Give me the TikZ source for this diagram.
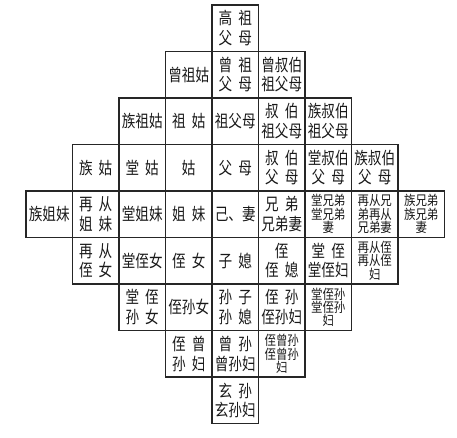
\documentclass[tikz,border=0pt]{standalone}
\usepackage{fontspec}
\newfontfamily\cjk{Noto Sans CJK SC}[FakeStretch=0.8]
\newfontfamily\cjks{Noto Sans CJK SC}[FakeStretch=0.85]
\newcommand\gp{\hspace{6pt}}
\tikzset{
  cellbox/.style={draw=black!85, line width=1.1pt, minimum width=46.5pt, minimum height=46.5pt,
    inner sep=0pt, align=center, text=black!90, font=\cjk\fontsize{17}{19.5}\selectfont},
  tightbox/.style={cellbox, font=\cjks\fontsize{13.5}{10.8}\selectfont}
}
\begin{document}
\begin{tikzpicture}[x=1pt,y=-1pt]
\useasboundingbox (0,0) rectangle (457,438);
% column centres: 49.25 95.75 142.25 188.75 235.25 281.75 328.25 374.75 421.25
% row centres:    28.25 74.75 121.25 167.75 214.25 260.75 307.25 353.75 400.25
\node[cellbox] (gaozu) at (235.25,28.25) {高\gp 祖\\父\gp 母};
\node[cellbox] (zengzugu) at (188.75,74.75) {曾祖姑};
\node[cellbox] (zengzu) at (235.25,74.75) {曾\gp 祖\\父\gp 母};
\node[cellbox] (zengshubo) at (281.75,74.75) {曾叔伯\\祖父母};
\node[cellbox] (zuzugu) at (142.25,121.25) {族祖姑};
\node[cellbox] (zugu) at (188.75,121.25) {祖\gp 姑};
\node[cellbox] (zufumu) at (235.25,121.25) {祖父母};
\node[cellbox] (shubozu) at (281.75,121.25) {叔\gp 伯\\祖父母};
\node[cellbox] (zushubozu) at (328.25,121.25) {族叔伯\\祖父母};
\node[cellbox] (zugu2) at (95.75,167.75) {族\gp 姑};
\node[cellbox] (tanggu) at (142.25,167.75) {堂\gp 姑};
\node[cellbox] (gu) at (188.75,167.75) {姑};
\node[cellbox] (fumu) at (235.25,167.75) {父\gp 母};
\node[cellbox] (shubo) at (281.75,167.75) {叔\gp 伯\\父\gp 母};
\node[cellbox] (tangshubo) at (328.25,167.75) {堂叔伯\\父\gp 母};
\node[cellbox] (zushubo) at (374.75,167.75) {族叔伯\\父\gp 母};
\node[cellbox] (zujiemei) at (49.25,214.25) {族姐妹};
\node[cellbox] (zaicongjm) at (95.75,214.25) {再\gp 从\\姐\gp 妹};
\node[cellbox] (tangjiemei) at (142.25,214.25) {堂姐妹};
\node[cellbox] (jiemei) at (188.75,214.25) {姐\gp 妹};
\node[cellbox] (ji) at (235.25,214.25) {己、妻};
\node[cellbox] (xiongdi) at (281.75,214.25) {兄\gp 弟\\兄弟妻};
\node[tightbox] (tangxd) at (328.25,214.25) {堂兄弟\\堂兄弟\\妻};
\node[tightbox] (zaicongxd) at (374.75,214.25) {再从兄\\弟再从\\兄弟妻};
\node[tightbox] (zuxd) at (421.25,214.25) {族兄弟\\族兄弟\\妻};
\node[cellbox] (zaicongzn) at (95.75,260.75) {再\gp 从\\侄\gp 女};
\node[cellbox] (tangzhinv) at (142.25,260.75) {堂侄女};
\node[cellbox] (zhinv) at (188.75,260.75) {侄\gp 女};
\node[cellbox] (zixi) at (235.25,260.75) {子\gp 媳};
\node[cellbox] (zhi) at (281.75,260.75) {侄\\侄\gp 媳};
\node[cellbox] (tangzhi) at (328.25,260.75) {堂\gp 侄\\堂侄妇};
\node[tightbox] (zaicongzhi) at (374.75,260.75) {再从侄\\再从侄\\妇};
\node[cellbox] (tangzhisunnv) at (142.25,307.25) {堂\gp 侄\\孙\gp 女};
\node[cellbox] (zhisunnv) at (188.75,307.25) {侄孙女};
\node[cellbox] (sun) at (235.25,307.25) {孙\gp 子\\孙\gp 媳};
\node[cellbox] (zhisun) at (281.75,307.25) {侄\gp 孙\\侄孙妇};
\node[tightbox] (tangzhisun) at (328.25,307.25) {堂侄孙\\堂侄孙\\妇};
\node[cellbox] (zhizengsunfu) at (188.75,353.75) {侄\gp 曾\\孙\gp 妇};
\node[cellbox] (zengsun) at (235.25,353.75) {曾\gp 孙\\曾孙妇};
\node[tightbox] (zhizengsun) at (281.75,353.75) {侄曾孙\\侄曾孙\\妇};
\node[cellbox] (xuansun) at (235.25,400.25) {玄\gp 孙\\玄孙妇};
\end{tikzpicture}
\end{document}
